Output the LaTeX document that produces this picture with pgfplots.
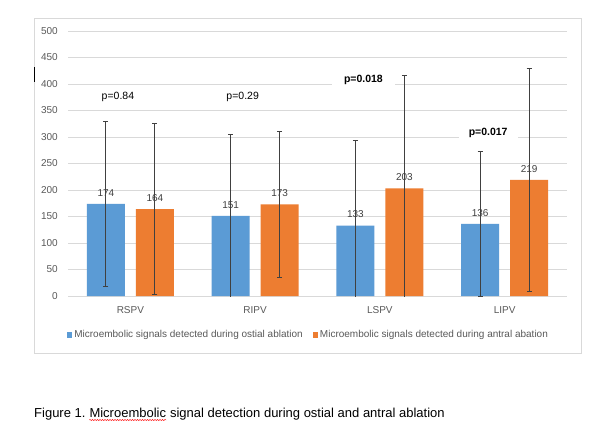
\documentclass[border=0pt]{standalone}
\usepackage{pgfplots}
\pgfplotsset{compat=1.18}
\usepackage{fontspec}
\setmainfont{Liberation Sans}
\usetikzlibrary{decorations.pathmorphing}
\definecolor{barblue}{HTML}{5B9BD5}
\definecolor{barorange}{HTML}{ED7D31}
\definecolor{gridgray}{HTML}{D9D9D9}
\definecolor{ticktext}{HTML}{595959}
\definecolor{labeltext}{HTML}{404040}
\definecolor{errgray}{HTML}{404040}
\begin{document}
\begin{tikzpicture}
\useasboundingbox (0pt,0pt) rectangle (612pt,442pt);
\fill[white] (0pt,0pt) rectangle (612pt,442pt);
\draw[gridgray, line width=0.8pt] (34pt,89pt) rectangle (581pt,424pt);
\draw[black, line width=0.8pt] (34pt,360pt) -- (34pt,375pt);
\begin{axis}[
  at={(68pt,146pt)}, anchor=south west,
  scale only axis, width=499pt, height=265pt,
  xmin=-0.5, xmax=3.5, ymin=0, ymax=500,
  ytick={0,50,...,500},
  xtick={0,1,2,3}, xticklabels={RSPV,RIPV,LSPV,LIPV},
  axis line style={draw=none},
  major tick length=0pt,
  ymajorgrids, grid style={gridgray, line width=0.8pt},
  tick label style={font=\fontsize{10}{12}\selectfont, text=ticktext},
  /pgf/number format/assume math mode=true,
  yticklabel style={anchor=east, inner sep=0pt, xshift=-10pt},
  xticklabel style={anchor=north, inner sep=0pt, yshift=-10pt},
  ybar,
  clip marker paths=true,
  nodes near coords,
  nodes near coords style={font=\fontsize{10}{12}\selectfont, text=labeltext, anchor=center, yshift=11pt, inner sep=0pt},
  legend style={at={(0.482,-0.147)}, anchor=center, legend columns=2, draw=none, fill=none,
    font=\fontsize{10}{12}\selectfont, text=ticktext,
    /tikz/every even column/.append style={column sep=8pt}},
  legend image code/.code={\fill[#1,draw=none] (0pt,-2.6pt) rectangle (5.2pt,2.6pt);},
]
\addplot[bar width=38pt, bar shift=-24.5pt, fill=barblue, draw=none,
  error bars/.cd, y dir=both, y explicit,
  error bar style={errgray, line width=0.8pt},
  error mark options={rotate=90, errgray, mark size=2.5pt, line width=0.8pt}]
  coordinates {(0,174) +- (0,155) (1,151) +- (0,154) (2,133) +- (0,161) (3,136) +- (0,136)};
\addlegendentry{Microembolic signals detected during ostial ablation}
\addplot[bar width=38pt, bar shift=24.5pt, fill=barorange, draw=none,
  error bars/.cd, y dir=both, y explicit,
  error bar style={errgray, line width=0.8pt},
  error mark options={rotate=90, errgray, mark size=2.5pt, line width=0.8pt}]
  coordinates {(0,164) +- (0,161) (1,173) +- (0,137) (2,203) +- (0,213) (3,219) +- (0,211)};
\addlegendentry{Microembolic signals detected during antral abation}
\node[font=\fontsize{10.5}{12}\selectfont] at (axis cs:-0.1,375) {p=0.84};
\node[font=\fontsize{10.5}{12}\selectfont] at (axis cs:0.9,375) {p=0.29};
\node[font=\bfseries\fontsize{10.5}{12}\selectfont, fill=white, inner xsep=12pt, inner ysep=2pt] at (axis cs:1.868,407.5) {p=0.018};
\node[font=\bfseries\fontsize{10.5}{12}\selectfont, fill=white, inner xsep=10pt, inner ysep=2pt] at (axis cs:2.868,307.5) {p=0.017};
\end{axis}
\node[anchor=base west, inner sep=0pt, font=\fontsize{13}{15}\selectfont] (c1) at (34pt,25pt) {Figure 1.\ \null};
\node[anchor=base west, inner sep=0pt, font=\fontsize{13}{15}\selectfont] (c2) at (c1.base east) {Microembolic};
\node[anchor=base west, inner sep=0pt, font=\fontsize{13}{15}\selectfont] (c3) at (c2.base east) {\null\ signal detection during ostial and antral ablation};
\draw[red, line width=0.4pt, decorate, decoration={snake, amplitude=0.6pt, segment length=2.5pt}] ([yshift=-3pt]c2.base west) -- ([yshift=-3pt]c2.base east);
\end{tikzpicture}
\end{document}
